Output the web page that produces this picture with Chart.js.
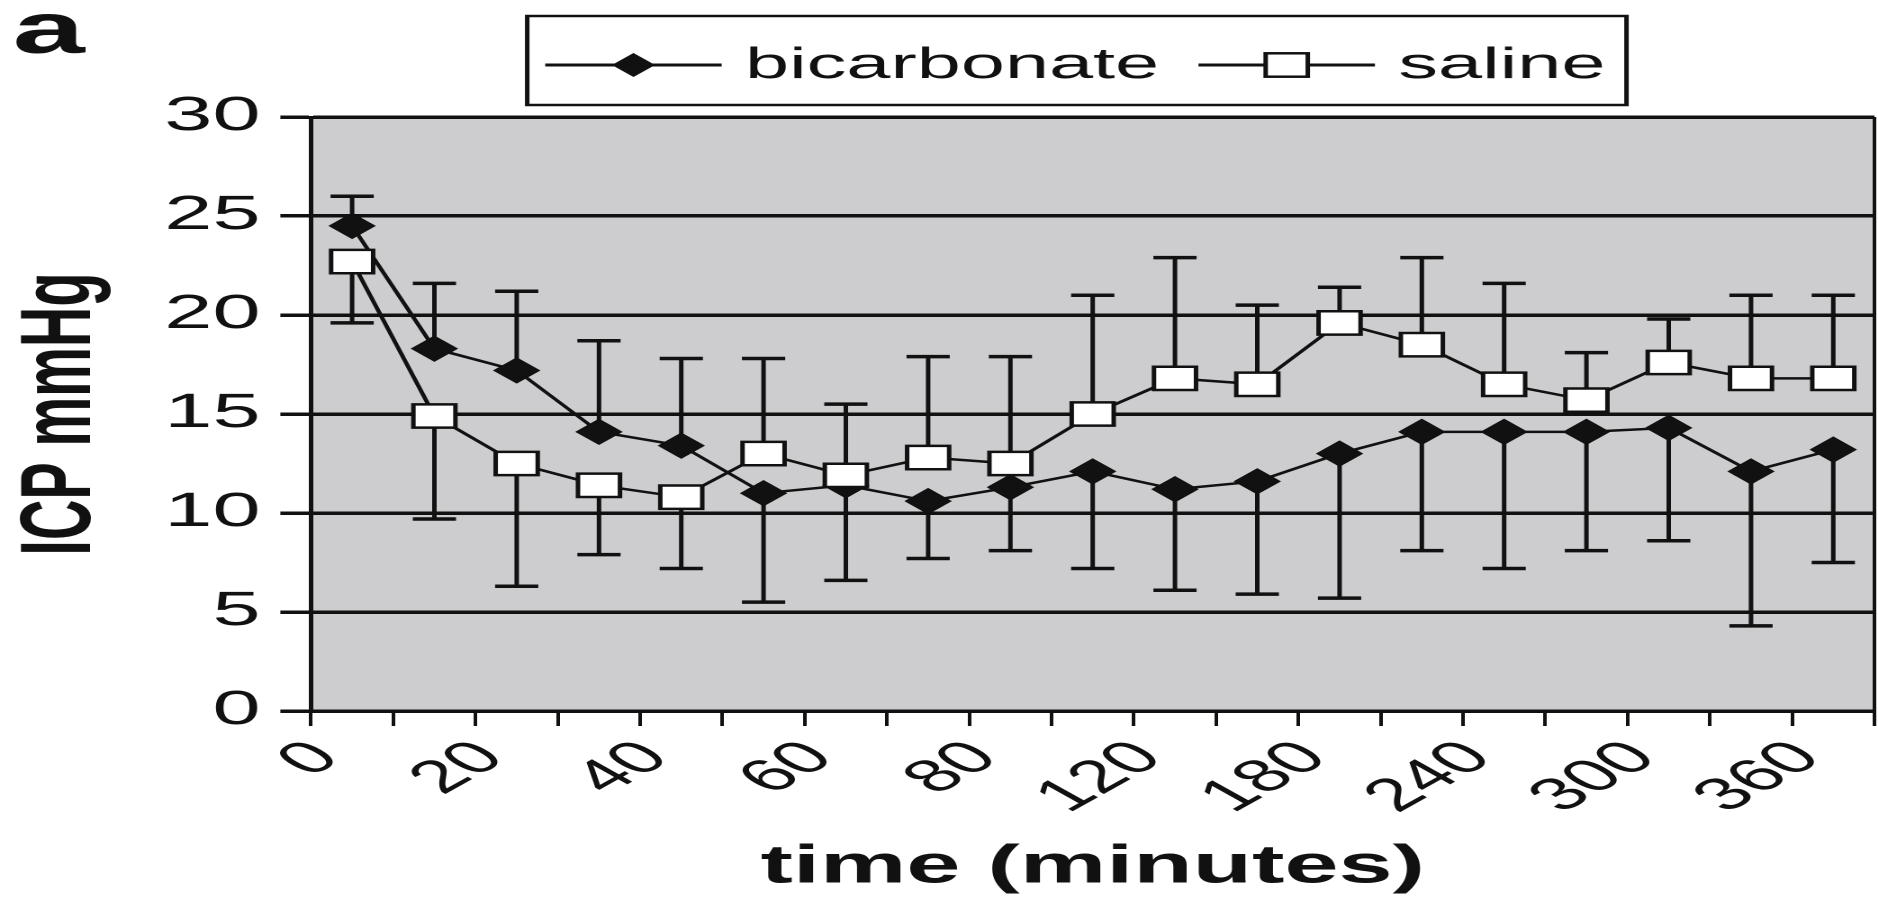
<!DOCTYPE html>
<html>
<head>
<meta charset="utf-8">
<script src="https://cdn.jsdelivr.net/npm/chart.js@4.4.1/dist/chart.umd.min.js"></script>
<style>
  html, body { margin: 0; padding: 0; background: #fff; overflow: hidden; }
  /* the original figure is a square-marker chart stretched sideways */
  #wrap { width: 1043px; height: 900px; transform: scaleX(1.8006); transform-origin: 0 0; }
</style>
</head>
<body>
<div id="wrap"><canvas id="icpChart" width="1043" height="900"></canvas></div>
<script>
const timeLabels = ['0', '10', '20', '30', '40', '50', '60', '70', '80', '90',
                    '120', '150', '180', '210', '240', '270', '300', '330', '360'];

const bicarbonateMean = [24.5, 18.3, 17.2, 14.1, 13.4, 11.0, 11.4, 10.6, 11.3, 12.1,
                         11.2, 11.6, 13.0, 14.1, 14.1, 14.1, 14.3, 12.1, 13.2];
const bicarbonateSD   = [1.5, 3.3, 4.0, 4.6, 4.4, 5.5, 4.8, 2.9, 3.2, 4.9,
                         5.1, 5.7, 7.3, 6.0, 6.9, 6.0, 5.7, 7.8, 5.7];

const salineMean = [22.7, 14.9, 12.5, 11.4, 10.8, 13.0, 11.9, 12.8, 12.5, 15.0,
                    16.8, 16.5, 19.6, 18.5, 16.5, 15.7, 17.6, 16.8, 16.8];
const salineSD   = [3.1, 5.2, 6.2, 3.5, 3.6, 4.8, 3.6, 5.1, 5.4, 6.0,
                    6.1, 4.0, 1.8, 4.4, 5.1, 2.4, 2.2, 4.2, 4.2];

const yMin = 0;
const yMax = 30;
const yStep = 5;

const FONT = '"Liberation Sans", Arial, sans-serif';
const INK = '#111';

function drawDiamond(ctx, x, y) {
    ctx.beginPath();
    ctx.moveTo(x - 12, y);
    ctx.lineTo(x, y - 12);
    ctx.lineTo(x + 12, y);
    ctx.lineTo(x, y + 12);
    ctx.closePath();
    ctx.fillStyle = INK;
    ctx.fill();
}

function drawSquare(ctx, x, y) {
    ctx.fillStyle = '#fff';
    ctx.fillRect(x - 11.7, y - 11.7, 23.4, 23.4);
    ctx.lineWidth = 2.5;
    ctx.strokeStyle = INK;
    ctx.strokeRect(x - 11.7, y - 11.7, 23.4, 23.4);
}

// grey plot background and the right-hand frame line
const plotBackground = {
    id: 'plotBackground',
    beforeDraw(chart) {
        const { ctx, chartArea: a } = chart;
        ctx.save();
        ctx.fillStyle = '#cdcdcf';
        ctx.fillRect(a.left, a.top, a.right - a.left, a.bottom - a.top);
        ctx.restore();
    },
    afterDraw(chart) {
        const { ctx, chartArea: a } = chart;
        ctx.save();
        ctx.strokeStyle = INK;
        ctx.lineWidth = 2;
        ctx.beginPath();
        ctx.moveTo(a.right, a.top);
        ctx.lineTo(a.right, a.bottom);
        ctx.stroke();
        ctx.restore();
    }
};

// one-sided SD bars: the upper series gets the plus bar, the lower one the minus bar
const errorBars = {
    id: 'errorBars',
    beforeDatasetsDraw(chart) {
        const { ctx, scales: { y } } = chart;
        const sds = [bicarbonateSD, salineSD];
        ctx.save();
        ctx.strokeStyle = INK;
        chart.data.datasets.forEach((ds, di) => {
            const other = chart.data.datasets[1 - di].data;
            chart.getDatasetMeta(di).data.forEach((pt, i) => {
                const dir = ds.data[i] >= other[i] ? 1 : -1;
                const yEnd = y.getPixelForValue(ds.data[i] + dir * sds[di][i]);
                ctx.lineWidth = 2.5;
                ctx.beginPath();
                ctx.moveTo(pt.x, pt.y);
                ctx.lineTo(pt.x, yEnd);
                ctx.stroke();
                ctx.lineWidth = 3.5;
                ctx.beginPath();
                ctx.moveTo(pt.x - 12, yEnd);
                ctx.lineTo(pt.x + 12, yEnd);
                ctx.stroke();
            });
        });
        ctx.restore();
    }
};

// boxed legend with line + marker, and the panel letter
const boxLegend = {
    id: 'boxLegend',
    afterDraw(chart) {
        const ctx = chart.ctx;
        ctx.save();
        ctx.fillStyle = INK;
        ctx.font = 'bold 72px ' + FONT;
        ctx.textBaseline = 'alphabetic';
        ctx.fillText('a', 7, 53);

        ctx.fillStyle = '#fff';
        ctx.fillRect(292.8, 16, 610.5, 89);
        ctx.strokeStyle = INK;
        ctx.lineWidth = 2.5;
        ctx.strokeRect(292.8, 16, 610.5, 89);

        const items = [
            { x: 302.8, marker: drawDiamond },
            { x: 665.6, marker: drawSquare }
        ];
        ctx.font = '44px ' + FONT;
        items.forEach((it, i) => {
            ctx.strokeStyle = INK;
            ctx.lineWidth = 3;
            ctx.beginPath();
            ctx.moveTo(it.x, 65);
            ctx.lineTo(it.x + 98, 65);
            ctx.stroke();
            it.marker(ctx, it.x + 49, 65);
            ctx.fillStyle = INK;
            ctx.fillText(chart.data.datasets[i].label, it.x + 111, 78);
        });
        ctx.restore();
    }
};

new Chart(document.getElementById('icpChart').getContext('2d'), {
    type: 'line',
    data: {
        labels: timeLabels,
        datasets: [
            {
                label: 'bicarbonate',
                data: bicarbonateMean,
                borderColor: INK,
                borderWidth: 2.5,
                pointStyle: 'rectRot',
                pointRadius: 12.5,
                pointBackgroundColor: INK,
                pointBorderColor: INK,
                pointBorderWidth: 1,
                order: 2
            },
            {
                label: 'saline',
                data: salineMean,
                borderColor: INK,
                borderWidth: 2.5,
                pointStyle: 'rect',
                pointRadius: 16.5,
                pointBackgroundColor: '#fff',
                pointBorderColor: INK,
                pointBorderWidth: 2.5,
                order: 1
            }
        ]
    },
    options: {
        responsive: false,
        animation: false,
        devicePixelRatio: 2,
        events: [],
        layout: { autoPadding: false, padding: { top: 117, right: 2, left: 0, bottom: 0 } },
        plugins: {
            legend: { display: false },
            tooltip: { enabled: false }
        },
        scales: {
            x: {
                type: 'category',
                offset: true,
                grid: { offset: true, drawOnChartArea: false, drawTicks: true, tickLength: 15, color: INK, lineWidth: 2 },
                border: { display: true, color: INK, width: 3 },
                ticks: {
                    autoSkip: false,
                    minRotation: 45,
                    maxRotation: 45,
                    labelOffset: -14,
                    padding: 5,
                    color: INK,
                    font: { family: FONT, size: 46 },
                    callback: (v, i) => (i % 2 === 0 ? timeLabels[i] : '')
                },
                title: {
                    display: true,
                    text: 'time (minutes)',
                    color: INK,
                    font: { family: FONT, size: 54, weight: 'bold' },
                    padding: { top: 0, bottom: 0 }
                },
                afterFit: (scale) => {
                    scale.height = 189;
                    scale.paddingLeft = 0;
                    scale.paddingRight = 0;
                }
            },
            y: {
                min: yMin,
                max: yMax,
                ticks: { stepSize: yStep, padding: 11, color: INK, font: { family: FONT, size: 48 } },
                grid: { color: INK, lineWidth: 3.5, tickLength: 17 },
                border: { display: true, color: INK, width: 2.5 },
                title: {
                    display: true,
                    text: 'ICP mmHg',
                    color: INK,
                    font: { family: FONT, size: 56, weight: 'bold' },
                    padding: { top: 1, bottom: 0 }
                },
                afterFit: (scale) => { scale.width = 172.7; }
            }
        }
    },
    plugins: [plotBackground, errorBars, boxLegend]
});
</script>
</body>
</html>
